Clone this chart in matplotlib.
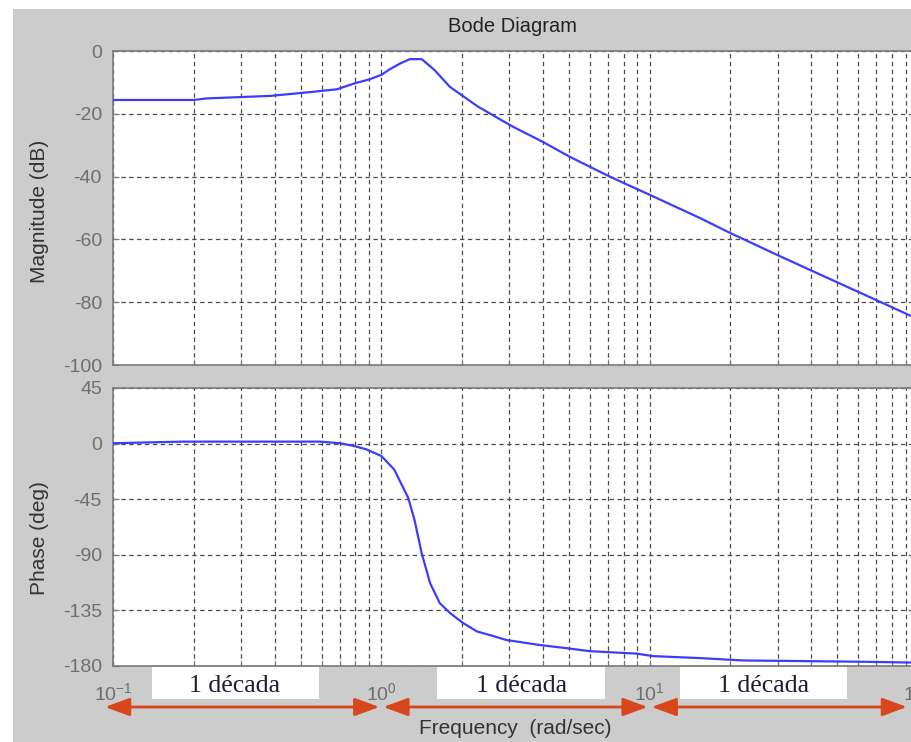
import matplotlib
matplotlib.use("Agg")
import matplotlib.pyplot as plt
from matplotlib.patches import Rectangle, FancyArrowPatch
from matplotlib.ticker import FixedLocator, FuncFormatter, LogLocator, NullFormatter
import numpy as np

plt.rcParams['font.family'] = ['Liberation Sans', 'DejaVu Sans']
plt.rcParams['mathtext.default'] = 'regular'
plt.rcParams['axes.unicode_minus'] = False

# Magnitude response (rad/s, dB)
w_mag = [0.1, 0.199, 0.224, 0.385, 0.484, 0.556, 0.682, 0.796, 0.905, 1.0,
         1.076, 1.18, 1.277, 1.415, 1.58, 1.80, 2.29, 3.09, 3.99, 5.04,
         7.10, 10.0, 15.4, 19.9, 30.5, 41.2, 71.9, 93.7, 100.0]
mag_db = [-15.6, -15.6, -15.1, -14.3, -13.5, -13.0, -12.2, -10.3, -9.0, -7.6,
          -5.8, -3.9, -2.6, -2.6, -6.1, -11.4, -17.7, -24.1, -28.9, -33.7,
          -40.0, -45.8, -53.2, -57.9, -65.3, -70.4, -79.8, -84.3, -85.4]

# Phase response (rad/s, deg)
w_ph = [0.1, 0.182, 0.590, 0.700, 0.783, 0.875, 1.0, 1.117, 1.26, 1.33,
        1.415, 1.52, 1.65, 1.80, 2.01, 2.27, 2.54, 2.93, 3.89, 4.91,
        5.98, 8.95, 10.3, 15.7, 22.2, 59.0, 100.0]
phase_deg = [0.3, 1.6, 1.6, 0.3, -1.7, -4.5, -10.0, -21.0, -44.0, -62.0,
             -89.0, -113.0, -129.0, -137.0, -145.0, -152.0, -155.0, -159.0, -163.0, -165.6,
             -168.0, -170.0, -172.0, -173.7, -175.5, -176.5, -177.3]

mag_ticks = [0, -20, -40, -60, -80, -100]
phase_ticks = [45, 0, -45, -90, -135, -180]
decades = [0.1, 1.0, 10.0, 100.0]
decade_label = "1 década"

W, H = 911, 742
fig = plt.figure(figsize=(W / 100, H / 100), dpi=100, facecolor='white')

def px(x0, y0, w, h):
    """Figure-fraction box from pixel coordinates measured from the top-left."""
    return [x0 / W, 1 - (y0 + h) / H, w / W, h / H]

# gray panel behind the plots
fig.patches.append(Rectangle((13 / W, 0), 1 - 13 / W, 1 - 9 / H,
                             transform=fig.transFigure, facecolor='#cccccc',
                             edgecolor='none', zorder=-5))

ax1 = fig.add_axes(px(113, 51, 805, 314))
ax2 = fig.add_axes(px(113, 388, 805, 278))

line_color = '#3c3cff'
grid_kw = dict(color='#4a4a4a', linestyle=(0, (3.5, 2.8)), linewidth=0.9)
tick_color = '#6e6e6e'

ax1.semilogx(w_mag, mag_db, color=line_color, lw=1.6, zorder=3)
ax2.semilogx(w_ph, phase_deg, color=line_color, lw=1.6, zorder=3)

def sci(v, pos):
    e = int(round(np.log10(v)))
    return r'$10^{%d}$' % e

for ax, ticks in ((ax1, mag_ticks), (ax2, phase_ticks)):
    ax.set_xlim(decades[0], decades[-1])
    ax.set_ylim(min(ticks), max(ticks))
    ax.set_yticks(ticks)
    ax.xaxis.set_major_locator(FixedLocator(decades))
    ax.xaxis.set_minor_locator(LogLocator(base=10, subs=np.arange(2, 10)))
    ax.xaxis.set_minor_formatter(NullFormatter())
    ax.grid(True, which='major', axis='both', **grid_kw)
    ax.grid(True, which='minor', axis='x', **grid_kw)
    ax.set_facecolor('white')
    for sp in ax.spines.values():
        sp.set_color('#7a7a7a')
        sp.set_linewidth(1.2)
    ax.tick_params(axis='both', which='both', direction='in', length=4,
                   color='#7a7a7a', labelcolor=tick_color, labelsize=14)
    ax.tick_params(axis='y', pad=8)
    ax.set_axisbelow(True)

ax1.tick_params(axis='x', which='both', labelbottom=False)
ax2.xaxis.set_major_formatter(FuncFormatter(sci))
ax2.tick_params(axis='x', which='major', pad=12)

ax1.set_ylabel('Magnitude (dB)', fontsize=15, color='#333333')
ax2.set_ylabel('Phase (deg)', fontsize=15, color='#333333')
ax1.yaxis.set_label_coords(-0.080, 0.49)
ax2.yaxis.set_label_coords(-0.080, 0.46)
fig.text(515 / W, 1 - 729 / H, 'Frequency  (rad/sec)', fontsize=15,
         color='#333333', ha='center', va='center')
fig.text(513 / W, 1 - 27 / H, 'Bode Diagram', fontsize=14.5,
         color='#222222', ha='center', va='center')

# white boxes carrying the decade captions
boxes = [(152, 319, 235), (437, 605, 522), (680, 847, 764)]
for x0, x1, xc in boxes:
    fig.patches.append(Rectangle((x0 / W, 1 - 699 / H), (x1 - x0) / W, 32 / H,
                                 transform=fig.transFigure, facecolor='white',
                                 edgecolor='none', zorder=1))
    fig.text(xc / W, 1 - 686 / H, decade_label, fontsize=18.5,
             family=['Liberation Serif', 'DejaVu Serif'], color='#1c1c3a',
             ha='center', va='center', zorder=2)

# double-headed arrows spanning each decade
fig.canvas.draw()
arrow_y = 1 - 707 / H
ends = [(-8, -2), (2, -2), (2, -11)]
for (a, b), (da, db) in zip(zip(decades[:-1], decades[1:]), ends):
    xa = ax2.transData.transform((a, 0))[0] + da
    xb = ax2.transData.transform((b, 0))[0] + db
    fig.patches.append(FancyArrowPatch(
        (xa / W, arrow_y), (xb / W, arrow_y), transform=fig.transFigure,
        arrowstyle='<|-|>,head_length=1.5,head_width=0.55', mutation_scale=10,
        color='#d8461b', lw=2.0, shrinkA=0, shrinkB=0, zorder=3))

fig.savefig('out.png', dpi=100, facecolor=fig.get_facecolor())
